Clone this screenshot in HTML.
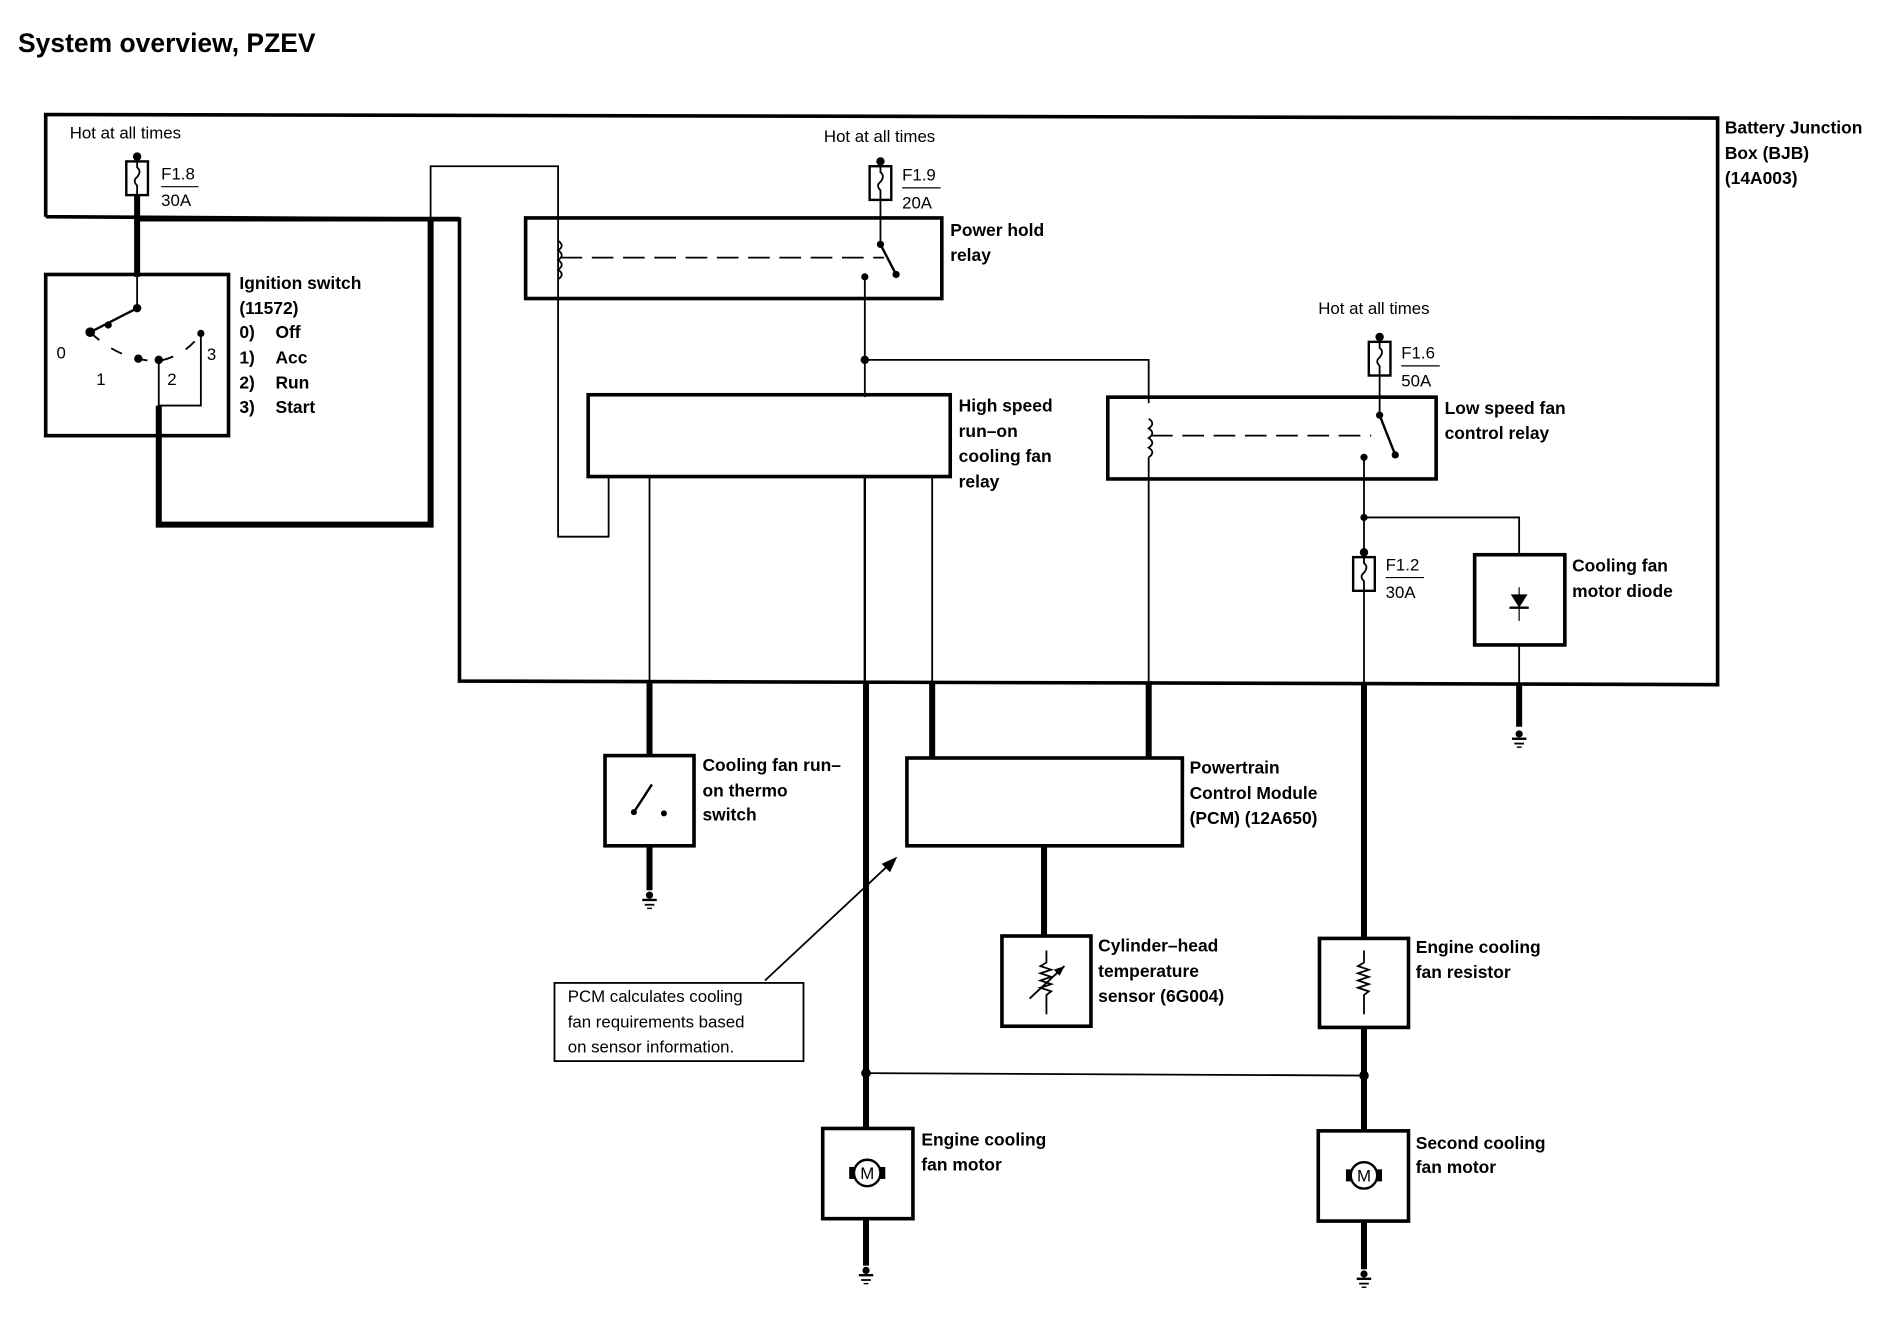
<!DOCTYPE html>
<html><head><meta charset="utf-8"><style>
html,body{margin:0;padding:0;background:#fff;}
svg{display:block;}
text{font-family:"Liberation Sans",sans-serif;fill:#000;}
.b{font-weight:bold;font-size:14.5px;}
.n{font-size:14px;}
</style></head><body>
<svg width="1886" height="1344" viewBox="0 0 1568 1117" xmlns="http://www.w3.org/2000/svg">
<defs>
<g id="gnd"><circle cx="0" cy="0" r="3" fill="#000"/><line x1="-6" y1="4" x2="6" y2="4" stroke="#000" stroke-width="2"/><line x1="-4" y1="8" x2="4" y2="8" stroke="#000" stroke-width="1.5"/><line x1="-2" y1="11" x2="2" y2="11" stroke="#000" stroke-width="1.2"/></g>
<g id="fuse"><rect x="-9" y="0" width="18" height="28" fill="#fff" stroke="#000" stroke-width="2"/><path d="M0,-6 V5 q4,3 0,8 q-4,3 0,7 V28" fill="none" stroke="#000" stroke-width="1.5"/><circle cx="0" cy="-4" r="3.5" fill="#000"/></g>
<g id="motor"><circle cx="0" cy="0" r="11" fill="#fff" stroke="#000" stroke-width="2"/><rect x="-15" y="-5" width="4" height="10"/><rect x="11" y="-5" width="4" height="10"/><text x="0" y="5" text-anchor="middle" style="font-size:14px">M</text></g>
</defs>
<text x="15" y="43" style="font-size:22px;font-weight:bold">System overview, PZEV</text>

<polyline points="38,180 38,95 1428,98 1428,569 382,566 382,182 38,180" fill="none" stroke="#000" stroke-width="3"/>
<text class="b" x="1434" y="111">Battery Junction</text>
<text class="b" x="1434" y="132">Box (BJB)</text>
<text class="b" x="1434" y="153">(14A003)</text>

<text class="n" x="58" y="115">Hot at all times</text>
<use href="#fuse" x="114" y="134"/>
<text class="n" x="134" y="149">F1.8</text><line x1="134" y1="155" x2="165" y2="155" stroke="#000" stroke-width="1"/>
<text class="n" x="134" y="171">30A</text>
<line x1="114" y1="162" x2="114" y2="230" stroke="#000" stroke-width="5"/>
<line x1="112" y1="182" x2="382" y2="182" stroke="#000" stroke-width="4"/>

<rect x="38" y="228" width="152" height="134" fill="none" stroke="#000" stroke-width="3"/>
<line x1="114" y1="230" x2="114" y2="255" stroke="#000" stroke-width="1.5"/>
<circle cx="114" cy="256" r="3.5"/>
<line x1="114" y1="256" x2="75" y2="276" stroke="#000" stroke-width="2"/>
<circle cx="75" cy="276" r="4"/><circle cx="90" cy="270" r="3"/>
<path d="M75,276 Q100,300 132,300 Q155,295 167,277" fill="none" stroke="#000" stroke-width="1.5" stroke-dasharray="10,12"/>
<circle cx="115" cy="298" r="3.5"/><circle cx="132" cy="299" r="3.5"/><circle cx="167" cy="277" r="3"/>
<polyline points="132,299 132,337 167,337 167,277" fill="none" stroke="#000" stroke-width="1.5"/>
<text class="n" x="47" y="298">0</text><text class="n" x="80" y="320">1</text><text class="n" x="139" y="320">2</text><text class="n" x="172" y="299">3</text>
<text class="b" x="199" y="240">Ignition switch</text>
<text class="b" x="199" y="261">(11572)</text>
<text class="b" x="199" y="281">0)</text><text class="b" x="229" y="281">Off</text>
<text class="b" x="199" y="302">1)</text><text class="b" x="229" y="302">Acc</text>
<text class="b" x="199" y="323">2)</text><text class="b" x="229" y="323">Run</text>
<text class="b" x="199" y="343">3)</text><text class="b" x="229" y="343">Start</text>
<polyline points="132,337 132,436 358,436 358,182" fill="none" stroke="#000" stroke-width="5"/>

<polyline points="358,182 358,138 464,138 464,446 506,446 506,396" fill="none" stroke="#000" stroke-width="1.5"/>

<rect x="437" y="181" width="346" height="67" fill="none" stroke="#000" stroke-width="3"/>
<path d="M464,200 q6,4 0,8 q6,4 0,8 q6,4 0,8 q6,4 0,8" fill="none" stroke="#000" stroke-width="1.5"/>
<line x1="466" y1="214" x2="735" y2="214" stroke="#000" stroke-width="1.5" stroke-dasharray="18,8"/>
<text class="n" x="685" y="118">Hot at all times</text>
<use href="#fuse" x="732" y="138"/>
<text class="n" x="750" y="150">F1.9</text><line x1="750" y1="156" x2="782" y2="156" stroke="#000" stroke-width="1"/>
<text class="n" x="750" y="173">20A</text>
<line x1="732" y1="166" x2="732" y2="203" stroke="#000" stroke-width="1.5"/>
<circle cx="732" cy="203" r="3"/><line x1="732" y1="203" x2="745" y2="228" stroke="#000" stroke-width="2"/><circle cx="745" cy="228" r="3"/>
<circle cx="719" cy="230" r="3"/>
<line x1="719" y1="230" x2="719" y2="330" stroke="#000" stroke-width="1.5"/>
<circle cx="719" cy="299" r="3.5"/>
<polyline points="719,299 955,299 955,335" fill="none" stroke="#000" stroke-width="1.5"/>
<text class="b" x="790" y="196">Power hold</text>
<text class="b" x="790" y="217">relay</text>

<rect x="489" y="328" width="301" height="68" fill="none" stroke="#000" stroke-width="3"/>
<text class="b" x="797" y="342">High speed</text>
<text class="b" x="797" y="363">run–on</text>
<text class="b" x="797" y="384">cooling fan</text>
<text class="b" x="797" y="405">relay</text>
<line x1="540" y1="396" x2="540" y2="568" stroke="#000" stroke-width="1.5"/>
<line x1="719" y1="396" x2="719" y2="568" stroke="#000" stroke-width="2"/>
<line x1="775" y1="396" x2="775" y2="568" stroke="#000" stroke-width="1.5"/>

<rect x="921" y="330" width="273" height="68" fill="none" stroke="#000" stroke-width="3"/>
<path d="M955,348 q6,4 0,8 q6,4 0,8 q6,4 0,8 q6,4 0,8" fill="none" stroke="#000" stroke-width="1.5"/>
<line x1="957" y1="362" x2="1140" y2="362" stroke="#000" stroke-width="1.5" stroke-dasharray="18,8"/>
<text class="n" x="1096" y="261">Hot at all times</text>
<use href="#fuse" x="1147" y="284"/>
<text class="n" x="1165" y="298">F1.6</text><line x1="1165" y1="304" x2="1197" y2="304" stroke="#000" stroke-width="1"/>
<text class="n" x="1165" y="321">50A</text>
<line x1="1147" y1="312" x2="1147" y2="345" stroke="#000" stroke-width="1.5"/>
<circle cx="1147" cy="345" r="3"/><line x1="1147" y1="345" x2="1160" y2="378" stroke="#000" stroke-width="2"/><circle cx="1160" cy="378" r="3"/>
<circle cx="1134" cy="380" r="3"/>
<text class="b" x="1201" y="344">Low speed fan</text>
<text class="b" x="1201" y="365">control relay</text>
<line x1="955" y1="380" x2="955" y2="568" stroke="#000" stroke-width="1.5"/>
<line x1="1134" y1="380" x2="1134" y2="568" stroke="#000" stroke-width="1.5"/>
<circle cx="1134" cy="430" r="3"/>
<polyline points="1134,430 1263,430 1263,461" fill="none" stroke="#000" stroke-width="1.5"/>
<use href="#fuse" x="1134" y="463"/>
<text class="n" x="1152" y="474">F1.2</text><line x1="1152" y1="480" x2="1184" y2="480" stroke="#000" stroke-width="1"/>
<text class="n" x="1152" y="497">30A</text>

<rect x="1226" y="461" width="75" height="75" fill="none" stroke="#000" stroke-width="3"/>
<line x1="1263" y1="488" x2="1263" y2="516" stroke="#000" stroke-width="1"/>
<polygon points="1256,494 1270,494 1263,505" fill="#000"/><line x1="1255" y1="505" x2="1271" y2="505" stroke="#000" stroke-width="2"/>
<text class="b" x="1307" y="475">Cooling fan</text>
<text class="b" x="1307" y="496">motor diode</text>
<line x1="1263" y1="536" x2="1263" y2="568" stroke="#000" stroke-width="1.5"/>
<line x1="1263" y1="568" x2="1263" y2="604" stroke="#000" stroke-width="5"/>
<use href="#gnd" x="1263" y="610"/>

<line x1="540" y1="568" x2="540" y2="628" stroke="#000" stroke-width="5"/>
<rect x="503" y="628" width="74" height="75" fill="none" stroke="#000" stroke-width="3"/>
<circle cx="527" cy="675" r="2.5"/><line x1="527" y1="675" x2="542" y2="652" stroke="#000" stroke-width="2"/><circle cx="552" cy="676" r="2.5"/>
<text class="b" x="584" y="641">Cooling fan run–</text>
<text class="b" x="584" y="662">on thermo</text>
<text class="b" x="584" y="682">switch</text>
<line x1="540" y1="703" x2="540" y2="740" stroke="#000" stroke-width="5"/>
<use href="#gnd" x="540" y="744"/>

<line x1="775" y1="568" x2="775" y2="630" stroke="#000" stroke-width="5"/>
<line x1="955" y1="568" x2="955" y2="630" stroke="#000" stroke-width="5"/>
<rect x="754" y="630" width="229" height="73" fill="none" stroke="#000" stroke-width="3"/>
<text class="b" x="989" y="643">Powertrain</text>
<text class="b" x="989" y="664">Control Module</text>
<text class="b" x="989" y="685">(PCM) (12A650)</text>
<line x1="868" y1="703" x2="868" y2="778" stroke="#000" stroke-width="5"/>

<rect x="833" y="778" width="74" height="75" fill="none" stroke="#000" stroke-width="3"/>
<path d="M870,790 V800 l-5,3 l9,3 l-9,3 l9,3 l-9,3 l9,3 l-9,3 l9,3 l-4,3 V843" fill="none" stroke="#000" stroke-width="1.5"/>
<line x1="856" y1="830" x2="885" y2="803" stroke="#000" stroke-width="1.5"/><polygon points="885,803 876,806 881,811" fill="#000"/>
<text class="b" x="913" y="791">Cylinder–head</text>
<text class="b" x="913" y="812">temperature</text>
<text class="b" x="913" y="833">sensor (6G004)</text>

<line x1="1134" y1="568" x2="1134" y2="780" stroke="#000" stroke-width="5"/>
<rect x="1097" y="780" width="74" height="74" fill="none" stroke="#000" stroke-width="3"/>
<path d="M1134,790 V800 l-5,3 l9,3 l-9,3 l9,3 l-9,3 l9,3 l-9,3 l9,3 l-4,3 V843" fill="none" stroke="#000" stroke-width="1.5"/>
<text class="b" x="1177" y="792">Engine cooling</text>
<text class="b" x="1177" y="813">fan resistor</text>
<line x1="1134" y1="854" x2="1134" y2="940" stroke="#000" stroke-width="5"/>

<line x1="720" y1="568" x2="720" y2="938" stroke="#000" stroke-width="5"/>
<line x1="720" y1="892" x2="1134" y2="894" stroke="#000" stroke-width="1.5"/>
<circle cx="720" cy="892" r="4"/><circle cx="1134" cy="894" r="4"/>
<rect x="684" y="938" width="75" height="75" fill="none" stroke="#000" stroke-width="3"/>
<use href="#motor" x="721" y="975"/>
<text class="b" x="766" y="952">Engine cooling</text>
<text class="b" x="766" y="973">fan motor</text>
<line x1="720" y1="1013" x2="720" y2="1052" stroke="#000" stroke-width="5"/>
<use href="#gnd" x="720" y="1056"/>

<rect x="1096" y="940" width="75" height="75" fill="none" stroke="#000" stroke-width="3"/>
<use href="#motor" x="1134" y="977"/>
<text class="b" x="1177" y="955">Second cooling</text>
<text class="b" x="1177" y="975">fan motor</text>
<line x1="1134" y1="1015" x2="1134" y2="1055" stroke="#000" stroke-width="5"/>
<use href="#gnd" x="1134" y="1059"/>

<rect x="461" y="817" width="207" height="65" fill="none" stroke="#000" stroke-width="1.5"/>
<text class="n" x="472" y="833">PCM calculates cooling</text>
<text class="n" x="472" y="854">fan requirements based</text>
<text class="n" x="472" y="875">on sensor information.</text>
<line x1="636" y1="815" x2="742" y2="716" stroke="#000" stroke-width="1.5"/>
<polygon points="746,712 733,718 740,725" fill="#000"/>
</svg>
</body></html>
